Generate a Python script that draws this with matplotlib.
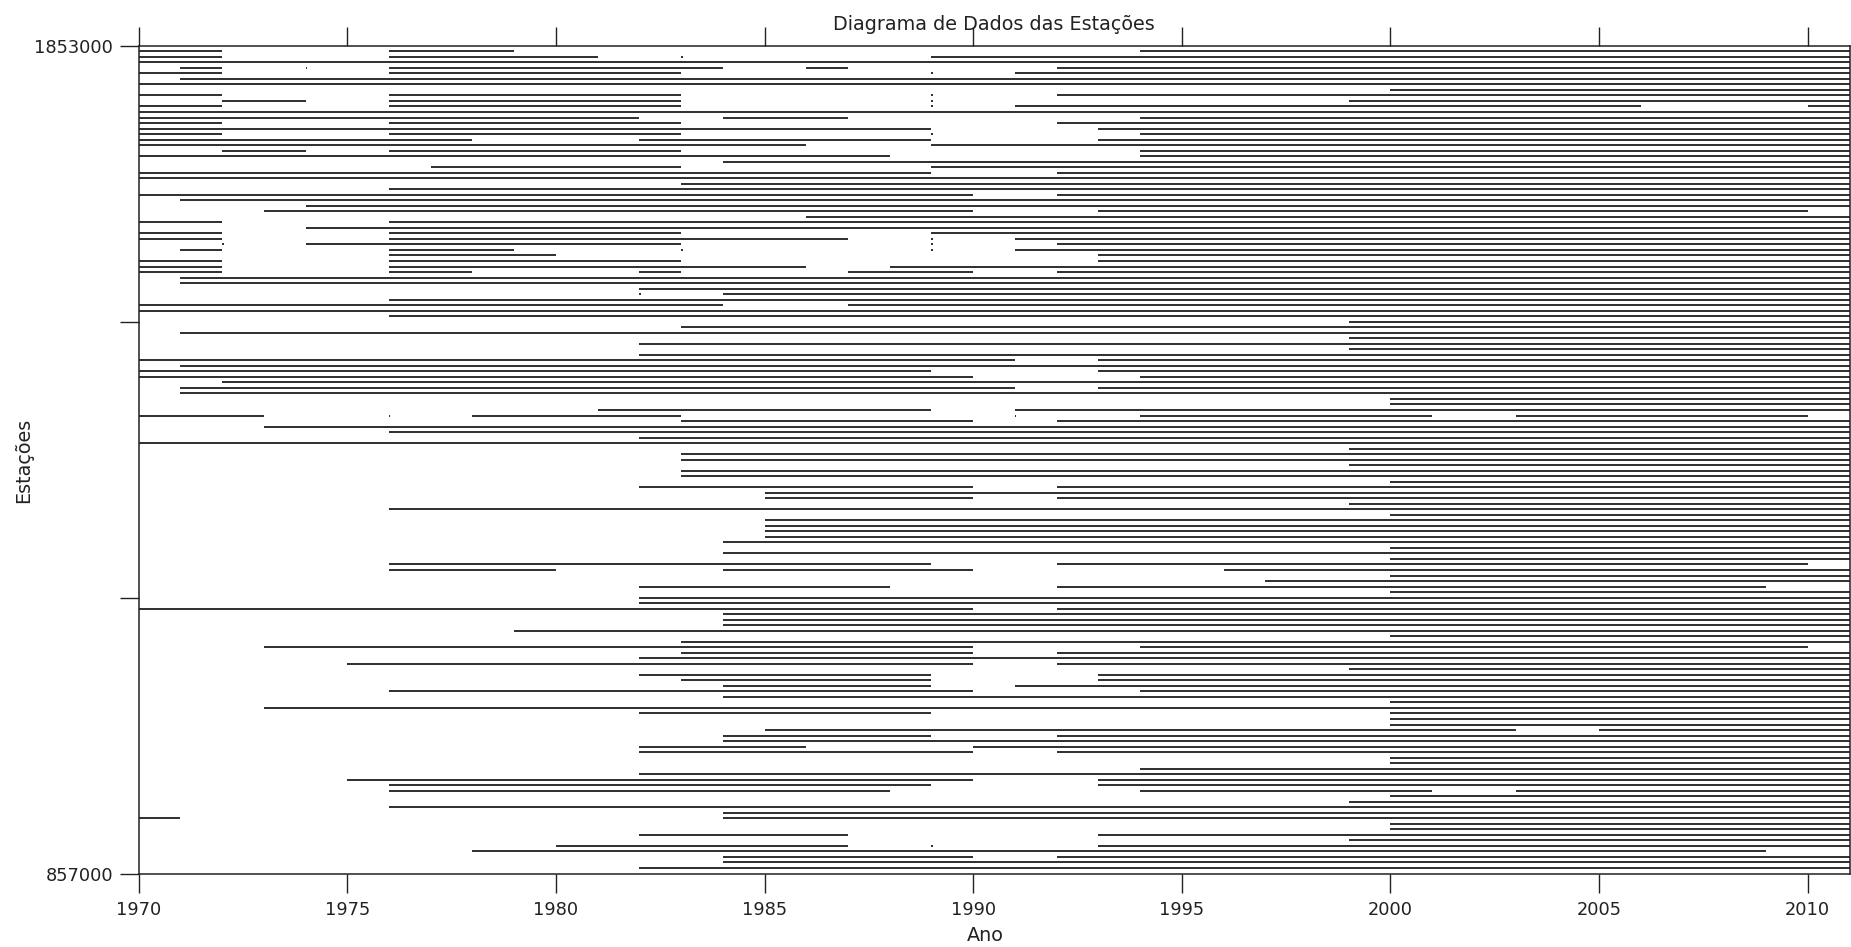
import matplotlib
matplotlib.use("Agg")
import matplotlib.pyplot as plt

# ---- data: periods with data for each station (row 1 = top) ----
segments = [
    [(1970, 1972), (1976, 1979), (1994, 2011)],                  # 1
    [(1970, 1972), (1976, 1981), (1989, 2011)],                  # 2
    [(1970, 2011)],                                              # 3
    [(1971, 1972), (1976, 1984), (1986, 1987), (1992, 2011)],    # 4
    [(1970, 1972), (1976, 1983), (1991, 2011)],                  # 5
    [(1971, 2011)],                                              # 6
    [(1970, 2011)],                                              # 7
    [(2000, 2011)],                                              # 8
    [(1970, 1972), (1976, 1983), (1992, 2011)],                  # 9
    [(1972, 1974), (1976, 1983), (1999, 2011)],                  # 10
    [(1970, 1972), (1976, 1983), (1991, 2006), (2010, 2011)],    # 11
    [(1970, 2011)],                                              # 12
    [(1970, 1982), (1984, 1987), (1994, 2011)],                  # 13
    [(1970, 1972), (1976, 1983), (1992, 2011)],                  # 14
    [(1970, 1989), (1993, 2011)],                                # 15
    [(1970, 1972), (1976, 1983), (1994, 2011)],                  # 16
    [(1970, 1978), (1982, 1989), (1993, 2011)],                  # 17
    [(1970, 1986), (1989, 2011)],                                # 18
    [(1972, 1974), (1976, 1983), (1994, 2011)],                  # 19
    [(1970, 1988), (1994, 2011)],                                # 20
    [(1984, 2011)],                                              # 21
    [(1977, 1983), (1989, 2011)],                                # 22
    [(1970, 1989), (1992, 2011)],                                # 23
    [(1970, 2011)],                                              # 24
    [(1983, 2011)],                                              # 25
    [(1976, 2011)],                                              # 26
    [(1970, 1990), (1992, 2011)],                                # 27
    [(1971, 2011)],                                              # 28
    [(1974, 2011)],                                              # 29
    [(1973, 1990), (1993, 2010)],                                # 30
    [(1986, 2011)],                                              # 31
    [(1970, 1972), (1976, 2011)],                                # 32
    [(1974, 2011)],                                              # 33
    [(1970, 1972), (1976, 1983), (1989, 2011)],                  # 34
    [(1970, 1972), (1976, 1987), (1991, 2011)],                  # 35
    [(1974, 1983), (1992, 2011)],                                # 36
    [(1971, 1972), (1976, 1979), (1991, 2011)],                  # 37
    [(1976, 1980), (1993, 2011)],                                # 38
    [(1970, 1972), (1976, 1983), (1993, 2011)],                  # 39
    [(1970, 1972), (1976, 1986), (1988, 2011)],                  # 40
    [(1970, 1972), (1976, 1978), (1982, 1983), (1987, 1990), (1992, 2011)],  # 41
    [(1971, 2011)],                                              # 42
    [(1971, 2011)],                                              # 43
    [(1982, 2011)],                                              # 44
    [(1984, 2011)],                                              # 45
    [(1976, 2011)],                                              # 46
    [(1970, 1984), (1987, 2011)],                                # 47
    [(1970, 2011)],                                              # 48
    [(1976, 2011)],                                              # 49
    [(1999, 2011)],                                              # 50
    [(1983, 2011)],                                              # 51
    [(1971, 2011)],                                              # 52
    [(1999, 2011)],                                              # 53
    [(1982, 2011)],                                              # 54
    [(1999, 2011)],                                              # 55
    [(1982, 2011)],                                              # 56
    [(1970, 1991), (1993, 2011)],                                # 57
    [(1971, 2011)],                                              # 58
    [(1970, 1989), (1993, 2011)],                                # 59
    [(1970, 1990), (1994, 2011)],                                # 60
    [(1972, 2011)],                                              # 61
    [(1971, 1991), (1993, 2011)],                                # 62
    [(1971, 2011)],                                              # 63
    [(2000, 2011)],                                              # 64
    [(2000, 2011)],                                              # 65
    [(1981, 1989), (1991, 2011)],                                # 66
    [(1970, 1973), (1978, 1983), (1994, 2001), (2003, 2010)],    # 67
    [(1983, 1990), (1992, 2011)],                                # 68
    [(1973, 2011)],                                              # 69
    [(1976, 2011)],                                              # 70
    [(1982, 2011)],                                              # 71
    [(1970, 2011)],                                              # 72
    [(1999, 2011)],                                              # 73
    [(1983, 2011)],                                              # 74
    [(1983, 2011)],                                              # 75
    [(1999, 2011)],                                              # 76
    [(1983, 2011)],                                              # 77
    [(1983, 2011)],                                              # 78
    [(2000, 2011)],                                              # 79
    [(1982, 1990), (1992, 2011)],                                # 80
    [(1985, 2011)],                                              # 81
    [(1985, 1990), (1992, 2011)],                                # 82
    [(1999, 2011)],                                              # 83
    [(1976, 2011)],                                              # 84
    [(2000, 2011)],                                              # 85
    [(1985, 2011)],                                              # 86
    [(1985, 2011)],                                              # 87
    [(1985, 2011)],                                              # 88
    [(1985, 2011)],                                              # 89
    [(1984, 2011)],                                              # 90
    [(2000, 2011)],                                              # 91
    [(1984, 2011)],                                              # 92
    [(2000, 2011)],                                              # 93
    [(1976, 1989), (1992, 2010)],                                # 94
    [(1976, 1980), (1984, 1990), (1996, 2011)],                  # 95
    [(2000, 2011)],                                              # 96
    [(1997, 2011)],                                              # 97
    [(1982, 1988), (1992, 2009)],                                # 98
    [(2000, 2011)],                                              # 99
    [(1982, 2011)],                                              # 100
    [(1982, 2011)],                                              # 101
    [(1970, 1990), (1992, 2011)],                                # 102
    [(1984, 2011)],                                              # 103
    [(1984, 2011)],                                              # 104
    [(1984, 2011)],                                              # 105
    [(1979, 2011)],                                              # 106
    [(2000, 2011)],                                              # 107
    [(1983, 2011)],                                              # 108
    [(1973, 1990), (1994, 2010)],                                # 109
    [(1983, 1990), (1992, 2011)],                                # 110
    [(1982, 2011)],                                              # 111
    [(1975, 1990), (1992, 2011)],                                # 112
    [(1999, 2011)],                                              # 113
    [(1982, 1989), (1993, 2011)],                                # 114
    [(1983, 1989), (1993, 2011)],                                # 115
    [(1984, 1989), (1991, 2011)],                                # 116
    [(1976, 1990), (1994, 2011)],                                # 117
    [(1984, 2011)],                                              # 118
    [(2000, 2011)],                                              # 119
    [(1973, 2011)],                                              # 120
    [(1982, 1989), (2000, 2011)],                                # 121
    [(2000, 2011)],                                              # 122
    [(2000, 2011)],                                              # 123
    [(1985, 2003), (2005, 2011)],                                # 124
    [(1984, 1989), (1992, 2011)],                                # 125
    [(1984, 2011)],                                              # 126
    [(1982, 1986), (1990, 2011)],                                # 127
    [(1982, 1990), (1992, 2011)],                                # 128
    [(2000, 2011)],                                              # 129
    [(2000, 2011)],                                              # 130
    [(1994, 2011)],                                              # 131
    [(1982, 2011)],                                              # 132
    [(1975, 1990), (1993, 2011)],                                # 133
    [(1976, 1989), (1993, 2011)],                                # 134
    [(1976, 1988), (1994, 2001), (2003, 2011)],                  # 135
    [(2000, 2011)],                                              # 136
    [(1999, 2011)],                                              # 137
    [(1976, 2011)],                                              # 138
    [(1984, 2011)],                                              # 139
    [(1970, 1971), (1984, 2011)],                                # 140
    [(2000, 2011)],                                              # 141
    [(2000, 2011)],                                              # 142
    [(1982, 1987), (1993, 2011)],                                # 143
    [(1999, 2011)],                                              # 144
    [(1980, 1987), (1993, 2011)],                                # 145
    [(1978, 2009)],                                              # 146
    [(1984, 1990), (1992, 2011)],                                # 147
    [(1984, 2011)],                                              # 148
    [(1982, 2011)],                                              # 149
]

# isolated single readings (station row -> years)
single_points = {
    2: [1983], 4: [1974], 5: [1989], 9: [1989], 10: [1989], 11: [1989],
    16: [1989], 35: [1989], 36: [1972, 1989], 37: [1983, 1989],
    45: [1982], 67: [1976, 1991], 145: [1989],
}

x_ticks = [1970, 1975, 1980, 1985, 1990, 1995, 2000, 2005, 2010]
y_tick_pos = [0, 50, 100, 150]
y_tick_labels = ["1853000", "", "", "857000"]
title = "Diagrama de Dados das Estações"
xlabel = "Ano"
ylabel = "Estações"

# ---- drawing ----
plt.rcParams["font.family"] = ["DejaVu Sans"]
fig = plt.figure(figsize=(18.51, 9.47), dpi=100)
ax = fig.add_axes([138.6 / 1851, 1 - 873.5 / 947, (1849.5 - 138.6) / 1851, (873.5 - 45.8) / 947])

lw = 1.15
for i, segs in enumerate(segments, start=1):
    for a, b in segs:
        ax.hlines(i, a, b, colors="black", linewidth=lw)
for row, years in single_points.items():
    for yr in years:
        ax.hlines(row, yr, yr + 0.035, colors="black", linewidth=lw)

ax.set_xlim(1970, 2011)
ax.set_ylim(150, 0)
ax.set_xticks(x_ticks)
ax.set_yticks(y_tick_pos)
ax.set_yticklabels(y_tick_labels)
ax.tick_params(axis="both", direction="out", length=13.5, width=1.0,
               labelsize=12.8, colors="#222222", pad=5)
ax.tick_params(axis="x", top=True, labeltop=False, pad=6)
ax.tick_params(axis="y", right=False)
for s in ax.spines.values():
    s.set_linewidth(1.1)
    s.set_color("#222222")

fig.text(994 / 1851, 1 - 24 / 947, title, ha="center", va="center", fontsize=13.8, color="#222222")
fig.text(985 / 1851, 1 - 935 / 947, xlabel, ha="center", va="center", fontsize=13.8, color="#222222")
fig.text(24 / 1851, 1 - 460 / 947, ylabel, ha="center", va="center", rotation=90, fontsize=13.8, color="#222222")

fig.savefig("out.png", dpi=100)
